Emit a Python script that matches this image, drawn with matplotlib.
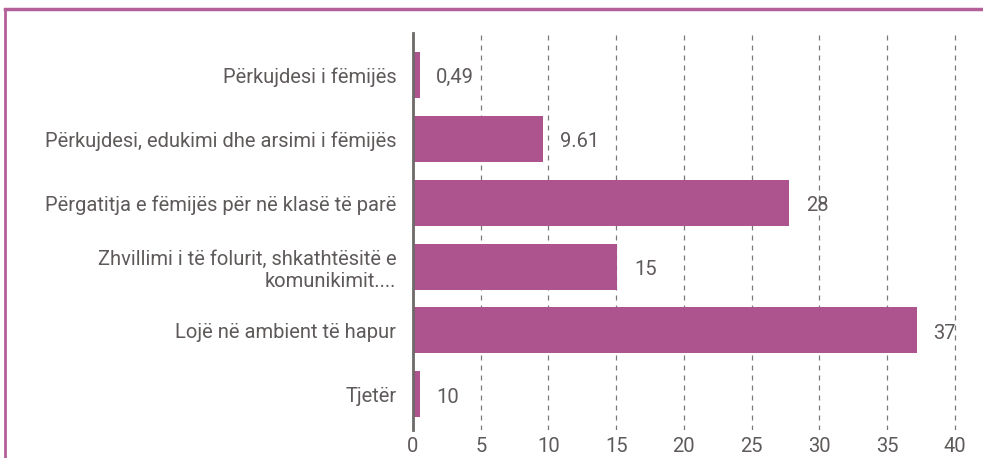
import matplotlib.pyplot as plt
from matplotlib.lines import Line2D

categories = [
    "Përkujdesi i fëmijës",
    "Përkujdesi, edukimi dhe arsimi i fëmijës",
    "Përgatitja e fëmijës për në klasë të parë",
    "Zhvillimi i të folurit, shkathtësitë e\nkomunikimit....",
    "Lojë në ambient të hapur",
    "Tjetër",
]
values = [0.49, 9.61, 27.8, 15.1, 37.2, 0.49]
value_labels = ["0,49", "9.61", "28", "15", "37", "10"]
xticks = [0, 5, 10, 15, 20, 25, 30, 35, 40]

bar_color = "#ad548e"
text_color = "#5e5a59"

plt.rcParams["font.family"] = ["Roboto", "DejaVu Sans"]

fig = plt.figure(figsize=(9.83, 4.58), dpi=100)
ax = fig.add_axes([413 / 983, 28 / 458, 562 / 983, 397 / 458])

y = range(len(categories))
ax.barh(y, values, height=0.72, color=bar_color, zorder=3)

for i, (v, lab) in enumerate(zip(values, value_labels)):
    ax.annotate(lab, (v, i), xytext=(12, -2), textcoords="offset points",
                va="center", ha="left", fontsize=14.5,
                color=text_color, zorder=4)

ax.set_xlim(0, 41.5)
ax.set_ylim(5.56, -0.66)
ax.set_yticks(list(y))
ax.set_yticklabels(categories, fontsize=14.5, color=text_color)
ax.set_xticks(xticks)
ax.set_xticklabels([str(t) for t in xticks], fontsize=14.5, color=text_color)
ax.tick_params(axis="both", length=0)
ax.tick_params(axis="y", pad=12)
ax.tick_params(axis="x", pad=5)

for t in xticks[1:]:
    ax.axvline(t, color="#7a7a7a", lw=0.9, ls=(0, (4, 4)), zorder=1)

for s in ["top", "right", "bottom"]:
    ax.spines[s].set_visible(False)
ax.spines["left"].set_color("#6d6a68")
ax.spines["left"].set_linewidth(2)
ax.spines["left"].set_zorder(5)

# frame lines top and left
fig.add_artist(Line2D([5 / 983, 1], [1 - 9 / 458, 1 - 9 / 458], color="#b3609a", lw=2.5))
fig.add_artist(Line2D([5 / 983, 5 / 983], [0, 1 - 9 / 458], color="#b3609a", lw=2))

fig.savefig("out.png", dpi=100)
